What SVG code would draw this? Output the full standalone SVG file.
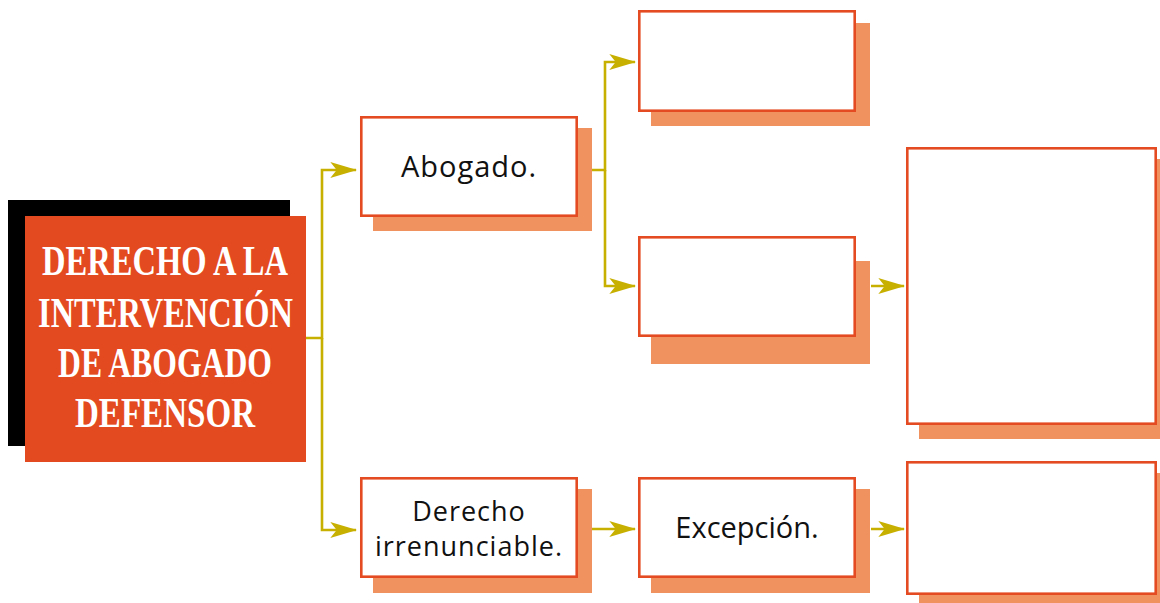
<svg xmlns="http://www.w3.org/2000/svg" width="1160" height="603" viewBox="0 0 1160 603">
<defs>
<style>
.box{fill:#ffffff;stroke:#E44B22;stroke-width:2.6}
.sh{fill:#F09160}
.con{fill:none;stroke:#C8B000;stroke-width:2.6}
.lbl{font-family:"Open Sans","Noto Sans",sans-serif;font-size:29px;fill:#111111;text-anchor:middle}
.lbl2{font-family:"Open Sans","Noto Sans",sans-serif;font-size:27px;letter-spacing:1px;fill:#111111;text-anchor:middle}
.title{font-family:"Liberation Serif","Times New Roman",serif;font-weight:bold;font-size:42px;fill:#ffffff;text-anchor:middle}
</style>
<marker id="arr" markerUnits="userSpaceOnUse" markerWidth="30" markerHeight="20" viewBox="-26 -9 28 18" refX="0" refY="0" orient="auto">
<path d="M1,0 L-24,-7.5 L-18,0 L-24,7.5 Z" fill="#C8B000"/>
</marker>
</defs>
<rect width="1160" height="603" fill="#ffffff"/>
<g id="connectors">
<path class="con" d="M306,338 H322 V170 H356" marker-end="url(#arr)"/>
<path class="con" d="M322,338 V530 H356" marker-end="url(#arr)"/>
<path class="con" d="M592,170 H605 V62 H635" marker-end="url(#arr)"/>
<path class="con" d="M605,170 V286 H635" marker-end="url(#arr)"/>
<path class="con" d="M871,286 H904" marker-end="url(#arr)"/>
<path class="con" d="M592,529 H635" marker-end="url(#arr)"/>
<path class="con" d="M871,529 H904" marker-end="url(#arr)"/>
</g>
<g id="main">
<rect x="8" y="200" width="282" height="246" fill="#000000"/>
<rect x="25" y="216" width="281" height="246" fill="#E44A1F"/>
<text class="title" x="165" y="275" textLength="246" lengthAdjust="spacingAndGlyphs">DERECHO A LA</text>
<text class="title" x="165.5" y="327" textLength="255" lengthAdjust="spacingAndGlyphs">INTERVENCIÓN</text>
<text class="title" x="165" y="377" textLength="214" lengthAdjust="spacingAndGlyphs">DE ABOGADO</text>
<text class="title" x="165" y="427" textLength="180" lengthAdjust="spacingAndGlyphs">DEFENSOR</text>
</g>
<g id="abogado">
<rect class="sh" x="373" y="128" width="219" height="103"/>
<rect class="box" x="361.3" y="117.3" width="215.4" height="98.4"/>
<text class="lbl" x="469" y="177" letter-spacing="1">Abogado.</text>
</g>
<g id="top-box">
<rect class="sh" x="651" y="23" width="219" height="103"/>
<rect class="box" x="639.3" y="11.3" width="215.4" height="99.4"/>
</g>
<g id="middle-box">
<rect class="sh" x="651" y="261" width="219" height="103"/>
<rect class="box" x="639.3" y="237.3" width="215.4" height="98.4"/>
</g>
<g id="big-box">
<rect class="sh" x="919" y="159" width="241" height="280"/>
<rect class="box" x="907.3" y="148.3" width="248.4" height="275.4"/>
</g>
<g id="derecho">
<rect class="sh" x="373" y="489" width="219" height="104"/>
<rect class="box" x="361.3" y="478.3" width="215.4" height="98.4"/>
<text class="lbl2" x="469" y="521">Derecho</text>
<text class="lbl2" x="469" y="556">irrenunciable.</text>
</g>
<g id="excepcion">
<rect class="sh" x="651" y="489" width="219" height="104"/>
<rect class="box" x="639.3" y="478.3" width="215.4" height="98.4"/>
<text class="lbl" x="747" y="538">Excepción.</text>
</g>
<g id="bottom-right-box">
<rect class="sh" x="919" y="473" width="241" height="130"/>
<rect class="box" x="907.3" y="462.3" width="248.4" height="131.4"/>
</g>
</svg>
